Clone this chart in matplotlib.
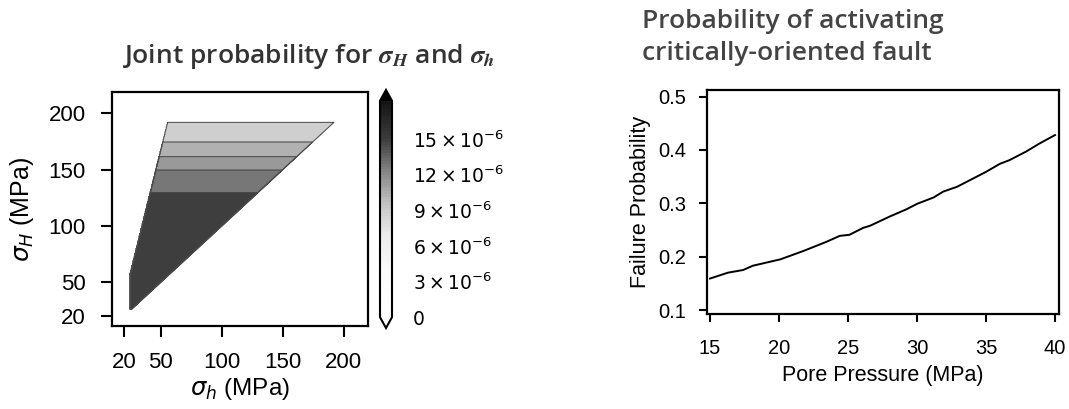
import numpy as np
import matplotlib
matplotlib.use("Agg")
import matplotlib.pyplot as plt
from matplotlib.colors import LinearSegmentedColormap, Normalize

# ---------------- data ----------------
# Left panel: joint probability field, piecewise by sigma_H band
band_edges_sH = [26, 130, 150, 162, 175, 192]          # MPa, band boundaries in sigma_H
band_density = [14.85e-6, 12.8e-6, 11.35e-6, 10.3e-6, 8.8e-6]  # density in each band
sh_min = 25                                             # lower bound on sigma_h (MPa)
left_edge_sh = [25, 55.5]                               # frictional-limit edge (sigma_h)
left_edge_sH = [58, 192.5]                              # frictional-limit edge (sigma_H)
cbar_ticks = [0, 3e-6, 6e-6, 9e-6, 12e-6, 15e-6]
cbar_ticklabels = ["0", r"$3\times10^{-6}$", r"$6\times10^{-6}$", r"$9\times10^{-6}$",
                   r"$12\times10^{-6}$", r"$15\times10^{-6}$"]
cbar_vmax = 18.2e-6
cmap_values = [0, 4e-6, 7e-6, 9e-6, 12e-6, 15e-6, 18.2e-6]
cmap_greys = [255, 250, 235, 205, 140, 60, 20]
left_ticks = [20, 50, 100, 150, 200]

# Right panel: failure probability vs pore pressure
pore_pressure = [15.0, 16.3, 17.4, 18.1, 20.1, 21.8, 23.45, 24.4, 25.1, 26.1, 26.6, 28.0,
                 29.25, 30.0, 31.2, 31.9, 32.9, 34.1, 35.0, 36.0, 36.7, 37.9, 38.9, 40.0]
failure_prob = [0.159, 0.170, 0.175, 0.183, 0.195, 0.211, 0.228, 0.239, 0.241, 0.254, 0.258,
                0.275, 0.289, 0.299, 0.311, 0.322, 0.331, 0.347, 0.359, 0.374, 0.381, 0.397,
                0.4125, 0.428]
right_xticks = [15, 20, 25, 30, 35, 40]
right_yticks = [0.1, 0.2, 0.3, 0.4, 0.5]

# ---------------- figure ----------------
W, H = 1069, 409
fig = plt.figure(figsize=(W / 100, H / 100), dpi=100)
tick_font = "Liberation Sans"

def fx(px):
    return px / W

def fy(py):
    return 1 - py / H

# ---------- left panel ----------
ax1 = fig.add_axes([fx(112), fy(326), fx(368) - fx(112), fy(92) - fy(326)])
cax = fig.add_axes([fx(380), fy(328), fx(392) - fx(380), fy(90) - fy(328)])

sh = np.linspace(10, 220, 421)
sH = np.linspace(10, 220, 421)
SH_h, SH_H = np.meshgrid(sh, sH)
slope = (left_edge_sH[1] - left_edge_sH[0]) / (left_edge_sh[1] - left_edge_sh[0])
limit = left_edge_sH[0] + slope * (SH_h - left_edge_sh[0])
inside = (SH_h >= sh_min) & (SH_H >= SH_h) & (SH_H <= limit) & \
         (SH_H >= band_edges_sH[0]) & (SH_H <= band_edges_sH[-1])
Z = np.zeros_like(SH_h)
for k in range(len(band_density)):
    sel = inside & (SH_H >= band_edges_sH[k]) & (SH_H <= band_edges_sH[k + 1])
    Z[sel] = band_density[k]

cmap = LinearSegmentedColormap.from_list(
    "jp", [(v / cbar_vmax, (g / 255, g / 255, g / 255)) for v, g in zip(cmap_values, cmap_greys)])
cmap.set_under("white")
cmap.set_over("black")
norm = Normalize(vmin=0, vmax=cbar_vmax)
levels = np.linspace(0, cbar_vmax, 80)
cf = ax1.contourf(SH_h, SH_H, Z, levels=levels, cmap=cmap, norm=norm, extend="both")
line_levels = sorted([d - 0.05e-6 for d in band_density])
ax1.contour(SH_h, SH_H, Z, levels=line_levels, colors="#4a4a4a", linewidths=0.7)

ax1.set_xlim(10, 220)
ax1.set_ylim(11, 219)
ax1.set_xticks(left_ticks)
ax1.set_yticks(left_ticks)
for s in ax1.spines.values():
    s.set_linewidth(1.6)
ax1.tick_params(length=8, width=1.5, labelsize=16, pad=11)
ax1.tick_params(axis="x", pad=11)
for lab in ax1.get_xticklabels() + ax1.get_yticklabels():
    lab.set_fontfamily(tick_font)
ax1.set_xlabel(r"$\sigma_h$ (MPa)", fontsize=17.5, fontfamily=tick_font, labelpad=2)
ax1.set_ylabel(r"$\sigma_H$ (MPa)", fontsize=18, fontfamily=tick_font, labelpad=9)

cb = fig.colorbar(cf, cax=cax, extend="both")
cb.set_ticks(cbar_ticks)
cb.set_ticklabels(cbar_ticklabels)
cb.outline.set_linewidth(1.5)
cax.tick_params(length=0, labelsize=13.5, pad=15)

fig.text(fx(308), fy(63),
         r"Joint probability for $\mathbfit{\sigma}_{\mathbfit{H}}$ and $\mathbfit{\sigma}_{\mathbfit{h}}$",
         ha="center", va="baseline", fontsize=19, color="#333333",
         fontfamily="Open Sans", fontweight="semibold", math_fontfamily="stix")

# ---------- right panel ----------
ax2 = fig.add_axes([fx(707), fy(314), fx(1059) - fx(707), fy(90) - fy(314)])
ax2.plot(pore_pressure, failure_prob, color="black", linewidth=1.4)
ax2.set_xlim(14.78, 40.29)
ax2.set_ylim(0.0925, 0.5125)
ax2.set_xticks(right_xticks)
ax2.set_yticks(right_yticks)
for s in ax2.spines.values():
    s.set_linewidth(1.6)
ax2.tick_params(length=6, width=1.5, labelsize=14.5, pad=9)
ax2.tick_params(axis="x", pad=12)
for lab in ax2.get_xticklabels() + ax2.get_yticklabels():
    lab.set_fontfamily(tick_font)
ax2.set_xlabel("Pore Pressure (MPa)", fontsize=15.5, fontfamily=tick_font, labelpad=5)
ax2.set_ylabel("Failure Probability", fontsize=15.5, fontfamily=tick_font, labelpad=5)

fig.text(fx(642), fy(28), "Probability of activating", ha="left", va="baseline",
         fontsize=19, color="#444444", fontfamily="Open Sans", fontweight="semibold")
fig.text(fx(642), fy(60), "critically-oriented fault", ha="left", va="baseline",
         fontsize=19, color="#444444", fontfamily="Open Sans", fontweight="semibold")

fig.savefig("out.png", dpi=100)
